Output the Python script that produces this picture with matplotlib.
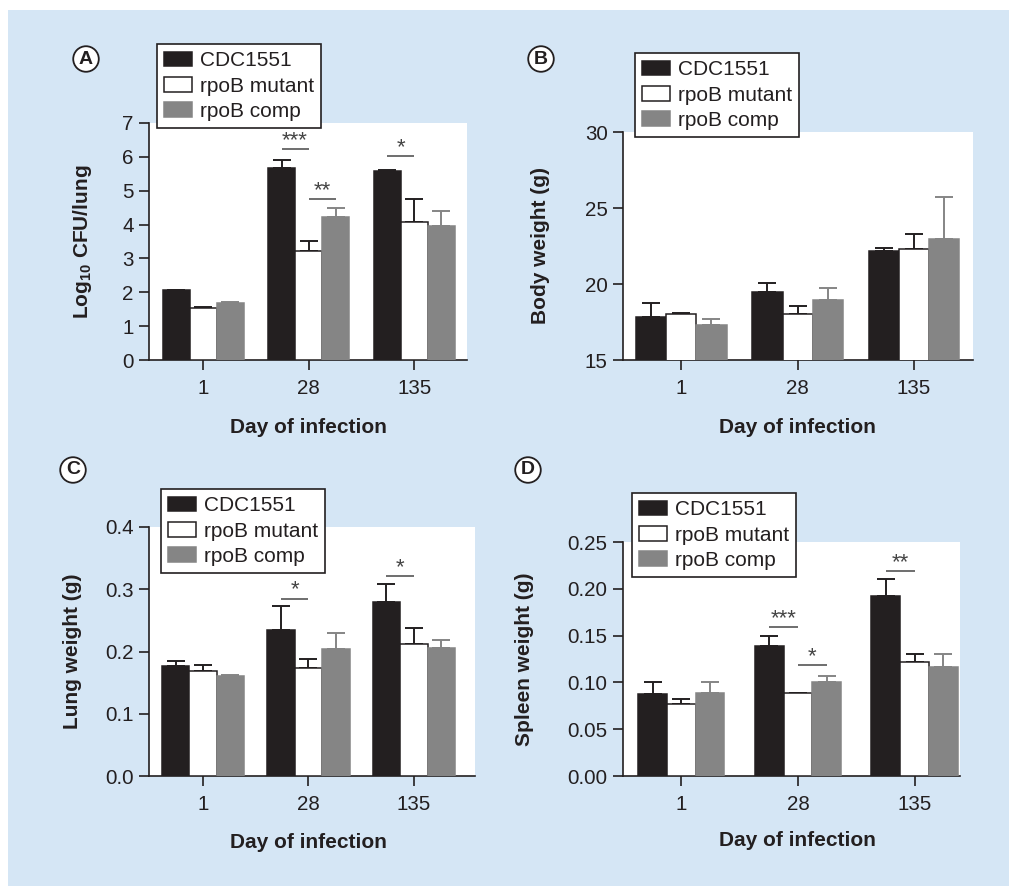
import matplotlib
matplotlib.use("Agg")
import matplotlib.pyplot as plt
from matplotlib.patches import Rectangle
import numpy as np

plt.rcParams['font.family'] = ['Liberation Sans', 'DejaVu Sans']
plt.rcParams['mathtext.fontset'] = 'custom'
plt.rcParams['mathtext.rm'] = 'Liberation Sans:bold'
plt.rcParams['mathtext.default'] = 'rm'

# ---------------- data ----------------
days = ['1', '28', '135']
series = ['CDC1551', 'rpoB mutant', 'rpoB comp']

# Panel A: Log10 CFU/lung
cfu_cdc = [2.07, 5.67, 5.57]
cfu_cdc_err = [0.0, 0.24, 0.04]
cfu_mut = [1.55, 3.22, 4.07]
cfu_mut_err = [0.03, 0.29, 0.68]
cfu_comp = [1.68, 4.23, 3.96]
cfu_comp_err = [0.02, 0.27, 0.45]

# Panel B: Body weight (g)
bw_cdc = [17.85, 19.45, 22.20]
bw_cdc_err = [0.92, 0.59, 0.18]
bw_mut = [18.04, 18.04, 22.27]
bw_mut_err = [0.06, 0.51, 1.05]
bw_comp = [17.30, 18.94, 22.93]
bw_comp_err = [0.37, 0.77, 2.80]

# Panel C: Lung weight (g)
lw_cdc = [0.176, 0.234, 0.280]
lw_cdc_err = [0.009, 0.039, 0.028]
lw_mut = [0.169, 0.174, 0.212]
lw_mut_err = [0.009, 0.014, 0.025]
lw_comp = [0.160, 0.204, 0.206]
lw_comp_err = [0.0026, 0.025, 0.013]

# Panel D: Spleen weight (g)
sw_cdc = [0.0877, 0.1384, 0.1919]
sw_cdc_err = [0.0125, 0.0114, 0.0181]
sw_mut = [0.0774, 0.0892, 0.1220]
sw_mut_err = [0.0053, 0.0, 0.0080]
sw_comp = [0.0892, 0.1009, 0.1160]
sw_comp_err = [0.0110, 0.0057, 0.0140]

# significance: (group, series_a, series_b, y, label)
sig_A = [(1, 0, 1, 6.24, '***'), (1, 1, 2, 4.75, '**'), (2, 0, 1, 6.02, '*')]
sig_C = [(1, 0, 1, 0.285, '*'), (2, 0, 1, 0.321, '*')]
sig_D = [(1, 0, 1, 0.159, '***'), (1, 1, 2, 0.119, '*'), (2, 0, 1, 0.219, '**')]

# ---------------- style ----------------
W, H = 1009, 886
BLUE = '#d5e6f5'
DARK = '#231f20'
GREY = '#858585'
fills = [DARK, 'white', GREY]
edges = [DARK, DARK, GREY]
errc = [DARK, DARK, GREY]

fig = plt.figure(figsize=(W / 100, H / 100), dpi=100)
fig.patch.set_facecolor('white')
fig.patches.append(Rectangle((8 / W, 0), 1 - 8 / W, 1 - 10 / H,
                             transform=fig.transFigure, facecolor=BLUE,
                             edgecolor='none', zorder=-10))


def px_axes(l, t, r, b):
    return fig.add_axes([l / W, 1 - b / H, (r - l) / W, (b - t) / H])


def panel(box, xlim, ylim, yticks, ytl, bw, data, ylabel, ylab_x, xlab_xy,
          legend_xy, letter_xy, letter, sigs):
    l, t, r, b = box
    ax = px_axes(l, t, r, b)
    ax.set_facecolor('white')
    x = np.arange(len(days))
    for i, (vals, errs) in enumerate(data):
        pos = x + (i - 1) * bw
        ax.bar(pos, vals, width=bw, color=fills[i], edgecolor=edges[i],
               linewidth=1.1, label=series[i], zorder=3)
        ax.errorbar(pos, vals, yerr=[np.zeros(len(vals)), errs], fmt='none',
                    ecolor=errc[i], elinewidth=1.4, capsize=6.5, capthick=1.4,
                    zorder=2)
    ax.set_xlim(*xlim)
    ax.set_ylim(*ylim)
    ax.set_yticks(yticks)
    ax.set_yticklabels(ytl)
    ax.set_xticks(x)
    ax.set_xticklabels(days)
    for s in ['top', 'right']:
        ax.spines[s].set_visible(False)
    for s in ['left', 'bottom']:
        ax.spines[s].set_linewidth(1.2)
        ax.spines[s].set_color(DARK)
    ax.tick_params(axis='both', direction='out', length=7.5, width=1.2,
                   color=DARK, labelsize=14.8, labelcolor=DARK)
    ax.tick_params(axis='y', pad=3.5)
    ax.tick_params(axis='x', pad=6)
    # significance bars
    for g, a, bb, yv, lab in sigs:
        xa = g + (a - 1) * bw
        xb = g + (bb - 1) * bw
        ax.plot([xa, xb], [yv, yv], color='#555555', lw=1.2, zorder=4,
                solid_capstyle='butt')
        ax.annotate(lab, xy=((xa + xb) / 2, yv), xytext=(0, -1.5),
                    textcoords='offset points', ha='center', va='bottom',
                    fontsize=16, color='#444444')
    # labels
    fig.text(ylab_x / W, 1 - ((t + b) / 2) / H, ylabel, rotation=90,
             ha='center', va='center', fontsize=15, fontweight='bold',
             color=DARK)
    fig.text(xlab_xy[0] / W, 1 - xlab_xy[1] / H, 'Day of infection',
             ha='center', va='center', fontsize=15, fontweight='bold',
             color=DARK)
    leg = ax.legend(loc='upper left',
                    bbox_to_anchor=(legend_xy[0] / W, 1 - legend_xy[1] / H),
                    bbox_transform=fig.transFigure, borderaxespad=0,
                    fontsize=15, frameon=True, fancybox=False,
                    handlelength=1.35, handleheight=0.7, handletextpad=0.35,
                    labelspacing=0.3, borderpad=0.35)
    fr = leg.get_frame()
    fr.set_edgecolor(DARK)
    fr.set_linewidth(1.2)
    fr.set_facecolor('white')
    fr.set_alpha(1)
    for txt in leg.get_texts():
        txt.set_color(DARK)
    leg.set_zorder(10)
    fig.text(letter_xy[0] / W, 1 - letter_xy[1] / H, letter, ha='center',
             va='center', fontsize=14, fontweight='bold', color=DARK,
             bbox=dict(boxstyle='circle,pad=0.22', fc='white', ec=DARK,
                       lw=1.3))
    return ax


panel((149, 123, 467, 360), (-0.512, 2.5), (0, 7), range(0, 8),
      [str(v) for v in range(0, 8)], 0.256,
      [(cfu_cdc, cfu_cdc_err), (cfu_mut, cfu_mut_err), (cfu_comp, cfu_comp_err)],
      r'Log$_{10}$ CFU/lung', 83, (308, 427), (157, 44),
      (86, 59), 'A', sig_A)

panel((623, 132, 973, 360), (-0.5, 2.506), (15, 30), [15, 20, 25, 30],
      ['15', '20', '25', '30'], 0.26,
      [(bw_cdc, bw_cdc_err), (bw_mut, bw_mut_err), (bw_comp, bw_comp_err)],
      'Body weight (g)', 540, (797, 427), (635, 53), (541, 59), 'B', [])

panel((149, 527, 475, 776), (-0.512, 2.58), (0, 0.4),
      [0, 0.1, 0.2, 0.3, 0.4], ['0.0', '0.1', '0.2', '0.3', '0.4'], 0.26,
      [(lw_cdc, lw_cdc_err), (lw_mut, lw_mut_err), (lw_comp, lw_comp_err)],
      'Lung weight (g)', 72, (308, 842), (161, 489), (73, 470), 'C', sig_C)

panel((623, 542, 960, 776), (-0.5, 2.39), (0, 0.25),
      [0, 0.05, 0.10, 0.15, 0.20, 0.25],
      ['0.00', '0.05', '0.10', '0.15', '0.20', '0.25'], 0.246,
      [(sw_cdc, sw_cdc_err), (sw_mut, sw_mut_err), (sw_comp, sw_comp_err)],
      'Spleen weight (g)', 525, (797, 840), (632, 493), (528, 470), 'D', sig_D)

fig.savefig('out.png', dpi=100, facecolor=fig.get_facecolor())
